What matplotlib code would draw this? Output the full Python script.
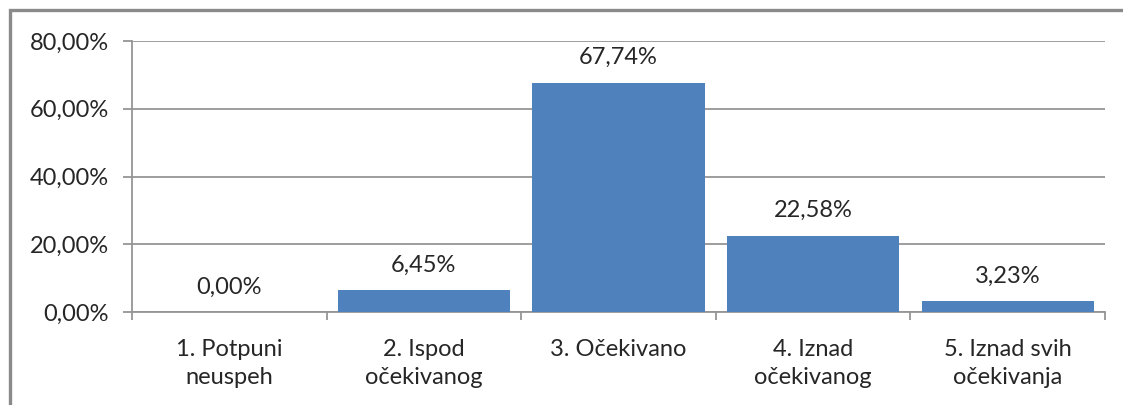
import matplotlib.pyplot as plt
from matplotlib.patches import Rectangle
import numpy as np

categories = ["1. Potpuni\nneuspeh", "2. Ispod\nočekivanog", "3. Očekivano",
              "4. Iznad\nočekivanog", "5. Iznad svih\nočekivanja"]
values = [0.0, 6.45, 67.74, 22.58, 3.23]
yticks = [0, 20, 40, 60, 80]

plt.rcParams['font.family'] = ['Lato', 'DejaVu Sans']
bar_color = "#4F81BD"
grid_color = "#959595"
text_color = "#262626"

fig = plt.figure(figsize=(11.23, 4.05), dpi=100)
ax = fig.add_axes([132 / 1123, 1 - 312 / 405, (1105 - 132) / 1123, (312 - 41) / 405])

x = np.arange(len(categories))
ax.bar(x, values, width=0.885, color=bar_color, zorder=3)

for xi, v in zip(x, values):
    ax.text(xi, v + 5.5, "{:.2f}%".format(v).replace(".", ","), ha="center",
            va="baseline", fontsize=17, color=text_color)

ax.set_xlim(-0.5, len(categories) - 0.5)
ax.set_ylim(0, 80)
ax.set_yticks(yticks)
ax.set_yticklabels(["{:.2f}%".format(t).replace(".", ",") for t in yticks])
ax.yaxis.grid(True, color=grid_color, linewidth=1.3, zorder=0)

# category labels centered, ticks on category boundaries
ax.set_xticks(np.arange(-0.5, len(categories)))
ax.set_xticklabels([])
for xi, lab in zip(x, categories):
    ax.text(xi, -0.1, lab, transform=ax.get_xaxis_transform(), ha="center",
            va="top", fontsize=17, color=text_color, linespacing=1.4)

ax.tick_params(axis="x", length=6, color=grid_color, width=1.3)
ax.tick_params(axis="y", length=6.5, color=grid_color, width=1.3, labelsize=17,
               labelcolor=text_color, pad=10)
for s in ["top", "right"]:
    ax.spines[s].set_visible(False)
for s in ["left", "bottom"]:
    ax.spines[s].set_color(grid_color)
    ax.spines[s].set_linewidth(1.3)

# outer chart frame
fig.patches.append(Rectangle((10 / 1123, -0.1), 1.2, 1 - 10 / 405 + 0.1,
                             transform=fig.transFigure, fill=False,
                             edgecolor="#8A8A8A", linewidth=2.4))

fig.savefig("out.png", dpi=100)
